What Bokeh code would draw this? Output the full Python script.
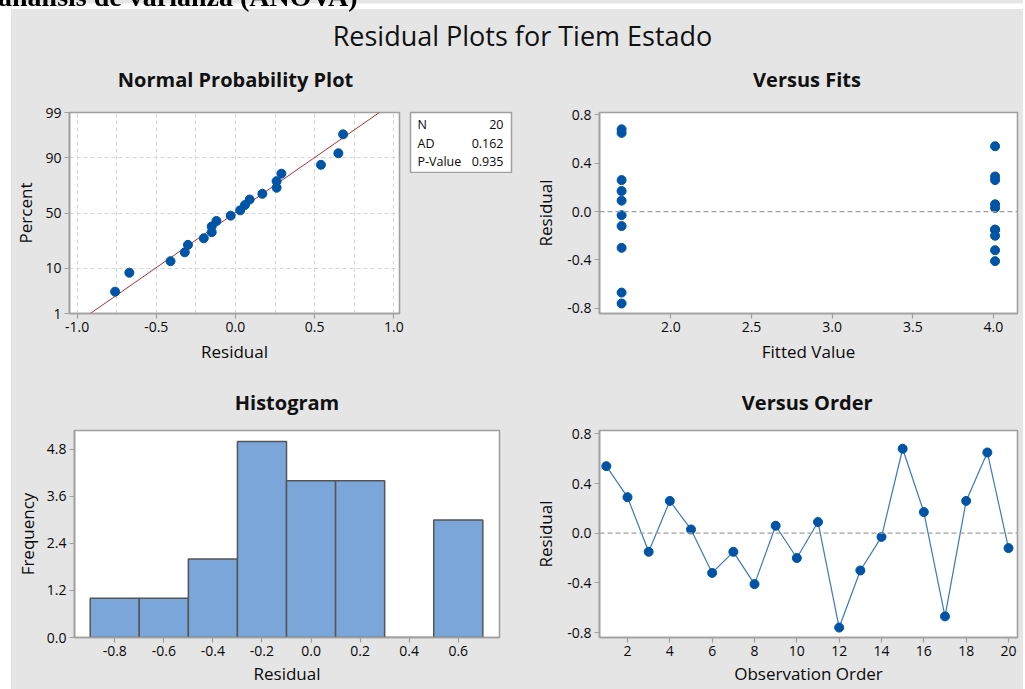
import statistics
from statistics import NormalDist
from bokeh.plotting import figure
from bokeh.layouts import column, row
from bokeh.models import Range1d, FixedTicker, NumeralTickFormatter, Span, Div
from bokeh.core.properties import value
from bokeh.embed import file_html
from bokeh.resources import INLINE

# ---------------- data ----------------
page_heading = "análisis de varianza (ANOVA)"
main_title = "Residual Plots for Tiem Estado"
panel_titles_top = ["Normal Probability Plot", "Versus Fits"]
panel_titles_bottom = ["Histogram", "Versus Order"]
observation = [1, 2, 3, 4, 5, 6, 7, 8, 9, 10, 11, 12, 13, 14, 15, 16, 17, 18, 19, 20]
residuals = [0.54, 0.29, -0.15, 0.26, 0.03, -0.32, -0.15, -0.41, 0.06, -0.20,
             0.09, -0.76, -0.30, -0.03, 0.68, 0.17, -0.67, 0.26, 0.65, -0.12]
fitted = [4.01, 4.01, 4.01, 4.01, 4.01, 4.01, 4.01, 4.01, 4.01, 4.01,
          1.695, 1.695, 1.695, 1.695, 1.695, 1.695, 1.695, 1.695, 1.695, 1.695]
hist_centers = [-0.8, -0.6, -0.4, -0.2, 0.0, 0.2, 0.4, 0.6]
hist_counts = [1, 1, 2, 5, 4, 4, 0, 3]
bin_width = 0.2
pct_ticks = [1, 10, 50, 90, 99]
pct_grid = [10, 50, 90]
npp_x_ticks = [-1.0, -0.5, 0.0, 0.5, 1.0]
npp_x_grid = [-1.0, -0.75, -0.5, -0.25, 0.0, 0.25, 0.5, 0.75, 1.0]
fits_x_ticks = [2.0, 2.5, 3.0, 3.5, 4.0]
resid_y_ticks = [-0.8, -0.4, 0.0, 0.4, 0.8]
hist_y_ticks = [0.0, 1.2, 2.4, 3.6, 4.8]
order_x_ticks = [2, 4, 6, 8, 10, 12, 14, 16, 18, 20]
stats_labels = ["N", "AD", "P-Value"]
stats_values = ["20", "0.162", "0.935"]

# ---------------- style ----------------
BG = "#E5E5E5"
FRAME = "#A0A0A0"
FONT = "Open Sans"
TXT = "#0A0A0A"
DOT = "#0054A6"

nd = NormalDist()


def style(p):
    p.border_fill_color = BG
    p.background_fill_color = "white"
    p.outline_line_color = FRAME
    p.outline_line_width = 1.6
    for ax in p.axis:
        ax.axis_line_color = FRAME
        ax.axis_line_width = 1.6
        ax.major_tick_line_color = FRAME
        ax.major_tick_line_width = 1.2
        ax.major_tick_out = 5
        ax.major_tick_in = 0
        ax.minor_tick_line_color = None
        ax.major_label_text_font = FONT
        ax.major_label_text_font_size = "14px"
        ax.major_label_text_color = TXT
        ax.axis_label_text_font = FONT
        ax.axis_label_text_font_size = "17px"
        ax.axis_label_text_font_style = "normal"
        ax.axis_label_text_color = TXT
        ax.major_label_standoff = 3
        ax.axis_label_standoff = 5


def blank(w, h, color):
    f = figure(width=w, height=h, min_border=0, toolbar_location=None,
               x_range=Range1d(0, w), y_range=Range1d(h, 0),
               x_axis_location=None, y_axis_location=None, output_backend="svg")
    f.grid.visible = False
    f.outline_line_color = None
    f.background_fill_color = color
    f.border_fill_color = color
    return f


# ---------------- main title band ----------------
tp = blank(1012, 49, BG)
tp.text(x=[511], y=[26], text=[main_title], text_align="center", text_baseline="middle",
        text_font=value(FONT), text_font_size="27px", text_color="#111111")

# ---------------- panel title bands ----------------
band1 = blank(1012, 42, BG)
band1.text(x=[224, 795.5], y=[21, 21], text=panel_titles_top, text_align="center",
           text_baseline="middle", text_font=value(FONT), text_font_size="20px",
           text_font_style="bold", text_color="#111111")
band2 = blank(1012, 50, BG)
band2.text(x=[275.5, 795.7], y=[37, 37], text=panel_titles_bottom, text_align="center",
           text_baseline="middle", text_font=value(FONT), text_font_size="20px",
           text_font_style="bold", text_color="#111111")

# ---------------- normal probability plot ----------------
n = len(residuals)
sorted_res = sorted(residuals)
npp_z = [nd.inv_cdf((i + 1 - 0.3) / (n + 0.4)) for i in range(n)]
mu = statistics.mean(residuals)
sd = statistics.stdev(residuals)
z_lo = nd.inv_cdf(pct_ticks[0] / 100)
z_hi = nd.inv_cdf(pct_ticks[-1] / 100)

npp = figure(width=394, height=265,
             x_range=Range1d(-1.048, 1.036), y_range=Range1d(z_lo, z_hi),
             min_border_left=57, min_border_right=6, min_border_top=12, min_border_bottom=49,
             toolbar_location=None, output_backend="svg")
line_z = [z_lo - 0.3, z_hi + 0.3]
npp.line(x=[mu + sd * z for z in line_z], y=line_z, line_color="#B03030", line_width=1)
npp.scatter(x=sorted_res, y=npp_z, size=9, fill_color=DOT, line_color=DOT)
npp.xaxis.ticker = FixedTicker(ticks=npp_x_ticks, minor_ticks=[])
npp.xaxis.formatter = NumeralTickFormatter(format="0.0")
y_tick_vals = [nd.inv_cdf(p / 100) for p in pct_ticks]
npp.yaxis.ticker = FixedTicker(ticks=y_tick_vals, minor_ticks=[])
npp.yaxis.major_label_overrides = {v: str(p) for v, p in zip(y_tick_vals, pct_ticks)}
npp.xgrid.ticker = FixedTicker(ticks=npp_x_grid)
npp.ygrid.ticker = FixedTicker(ticks=[nd.inv_cdf(p / 100) for p in pct_grid])
for g in (npp.xgrid[0], npp.ygrid[0]):
    g.grid_line_color = "#D6D6D6"
    g.grid_line_dash = "4 3"
    g.grid_line_width = 1
npp.xaxis.axis_label = "Residual"
npp.yaxis.axis_label = "Percent"
style(npp)

# ---------------- stats box ----------------
sb = figure(width=115, height=62, x_range=Range1d(0, 101), y_range=Range1d(60, 0),
            min_border_left=5, min_border_right=9, min_border_top=1, min_border_bottom=1,
            x_axis_location=None, y_axis_location=None, toolbar_location=None,
            output_backend="svg")
sb.grid.visible = False
sb.background_fill_color = "white"
sb.border_fill_color = BG
sb.outline_line_color = FRAME
sb.outline_line_width = 1.5
rows_y = [12, 30.5, 49]
sb.text(x=[7] * 3, y=rows_y, text=stats_labels, text_align="left", text_baseline="middle",
        text_font=value(FONT), text_font_size="12.5px", text_color=TXT)
sb.text(x=[93] * 3, y=rows_y, text=stats_values, text_align="right", text_baseline="middle",
        text_font=value(FONT), text_font_size="12.5px", text_color=TXT)
stats_col = column(blank(115, 11, BG), sb, blank(115, 192, BG),
                   styles={"background-color": BG})

# ---------------- versus fits ----------------
fits = figure(width=503, height=265,
              x_range=Range1d(1.558, 4.149), y_range=Range1d(-0.843, 0.819),
              min_border_left=79, min_border_right=6, min_border_top=12, min_border_bottom=49,
              toolbar_location=None, output_backend="svg")
fits.add_layout(Span(location=0, dimension="width", line_color=FRAME, line_dash="5 3", line_width=1.2))
fits.scatter(x=fitted, y=residuals, size=9, fill_color=DOT, line_color=DOT)
fits.xaxis.ticker = FixedTicker(ticks=fits_x_ticks, minor_ticks=[])
fits.xaxis.formatter = NumeralTickFormatter(format="0.0")
fits.yaxis.ticker = FixedTicker(ticks=resid_y_ticks, minor_ticks=[])
fits.yaxis.formatter = NumeralTickFormatter(format="0.0")
fits.grid.visible = False
fits.xaxis.axis_label = "Fitted Value"
fits.yaxis.axis_label = "Residual"
style(fits)
fits.yaxis.axis_label_standoff = 7

# ---------------- histogram ----------------
hist = figure(width=509, height=272,
              x_range=Range1d(-0.964, 0.768), y_range=Range1d(0, 5.28),
              min_border_left=63, min_border_right=21, min_border_top=15, min_border_bottom=49,
              toolbar_location=None, output_backend="svg")
hist.quad(left=[c - bin_width / 2 for c in hist_centers],
          right=[c + bin_width / 2 for c in hist_centers],
          bottom=[0] * len(hist_centers), top=hist_counts,
          fill_color="#7BA6D9", line_color="#555555", line_width=1.5)
hist.xaxis.ticker = FixedTicker(ticks=hist_centers, minor_ticks=[])
hist.xaxis.formatter = NumeralTickFormatter(format="0.0")
hist.yaxis.ticker = FixedTicker(ticks=hist_y_ticks, minor_ticks=[])
hist.yaxis.formatter = NumeralTickFormatter(format="0.0")
hist.grid.visible = False
hist.xaxis.axis_label = "Residual"
hist.yaxis.axis_label = "Frequency"
style(hist)
hist.xaxis.axis_label_standoff = 3

# ---------------- versus order ----------------
order = figure(width=503, height=272,
               x_range=Range1d(0.677, 20.425), y_range=Range1d(-0.84, 0.827),
               min_border_left=79, min_border_right=6, min_border_top=15, min_border_bottom=49,
               toolbar_location=None, output_backend="svg")
order.add_layout(Span(location=0, dimension="width", line_color=FRAME, line_dash="5 3", line_width=1.2))
order.line(x=observation, y=residuals, line_color="#3A78C2", line_width=1.2)
order.scatter(x=observation, y=residuals, size=9, fill_color=DOT, line_color=DOT)
order.xaxis.ticker = FixedTicker(ticks=order_x_ticks, minor_ticks=[])
order.yaxis.ticker = FixedTicker(ticks=resid_y_ticks, minor_ticks=[])
order.yaxis.formatter = NumeralTickFormatter(format="0.0")
order.grid.visible = False
order.xaxis.axis_label = "Observation Order"
order.yaxis.axis_label = "Residual"
style(order)
order.yaxis.axis_label_standoff = 7
order.xaxis.axis_label_standoff = 3

heading = Div(
    text=('<div style="position:fixed; left:-2px; top:-17px; font-family:\'Liberation Serif\';'
          'font-weight:bold; font-size:28px; line-height:28px; white-space:nowrap; color:#000;">'
          + page_heading + '</div>'),
    width=1, height=0)

row1 = row(npp, stats_col, fits, styles={"background-color": BG})
row2 = row(hist, order, styles={"background-color": BG})
right = column(blank(1012, 9, "white"), tp, band1, row1, band2, row2, heading,
               styles={"background-color": BG})
layout = row(blank(11, 687, "white"), right)

open("out.html", "w").write(file_html(layout, INLINE))
